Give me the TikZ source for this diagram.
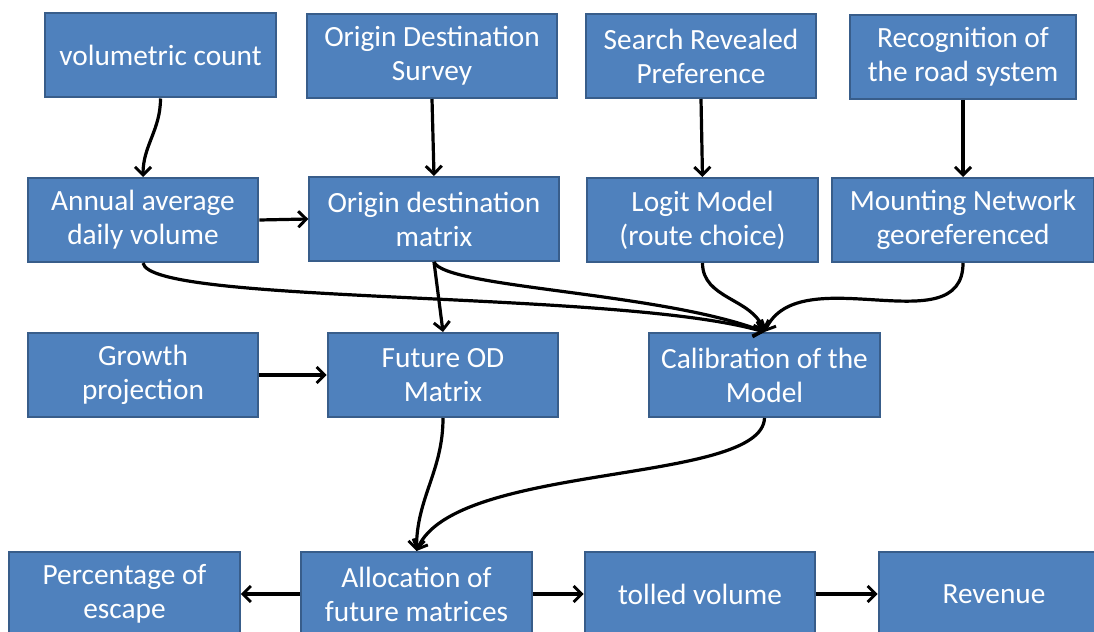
\documentclass[tikz,border=0pt]{standalone}
\usepackage{fontspec}
\setmainfont{Carlito}
\usetikzlibrary{arrows.meta}
\definecolor{boxfill}{HTML}{4F81BD}
\definecolor{boxline}{HTML}{385D8A}
\begin{document}
\begin{tikzpicture}[x=0.75pt,y=-0.75pt,
    block/.style={draw=boxline, fill=boxfill, line width=1.5pt, text=white,
      align=center, minimum width=173pt, minimum height=63pt, inner sep=2pt,
      font=\fontsize{22}{25.5}\selectfont},
    link/.style={-{Straight Barb[length=6pt,width=12pt,line width=2.2pt]}, line width=2.4pt}]
    \useasboundingbox (0,0) rectangle (1094,631);

    % First row
    \node[block] (count) at (160.5, 55.5) {volumetric count};
    \node[block, minimum width=187pt] (survey) at (432, 56) {Origin Destination\\Survey};
    \node[block] (search) at (701, 56) {Search Revealed\\Preference};
    \node[block, minimum width=170pt] (recog) at (963, 57) {Recognition of\\the road system};

    % Second row
    \node[block] (aadv) at (143, 220) {Annual average\\daily volume};
    \node[block, minimum width=187pt] (odmat) at (434, 219) {Origin destination\\matrix};
    \node[block] (logit) at (702.5, 220) {Logit Model\\(route choice)};
    \node[block, minimum width=196pt] (network) at (963, 220) {Mounting Network\\georeferenced};

    % Third row
    \node[block] (growth) at (143, 375) {Growth\\projection};
    \node[block] (future) at (443, 375) {Future OD\\Matrix};
    \node[block] (calib) at (764.5, 375) {Calibration of the\\Model};

    % Fourth row
    \node[block] (escape) at (124.5, 594) {Percentage of\\escape};
    \node[block] (alloc) at (416.5, 594) {Allocation of\\future matrices};
    \node[block] (tolled) at (700, 594) {tolled volume};
    \node[block] (revenue) at (994, 594) {Revenue};

    % Connectors
    \draw[link] (count.south) to[out=-90, in=90] (aadv.north);
    \draw[link] (survey.south) -- (odmat.north);
    \draw[link] (search.south) -- (logit.north);
    \draw[link] (recog.south) -- (network.north);
    \draw[link] (aadv.east) -- (odmat.west);
    \draw[link] (growth.east) -- (future.west);
    \draw[link] (odmat.south) -- (future.north);

    \draw[link] (aadv.south) .. controls (150,305) and (620,290) .. (calib.north);
    \draw[link] (odmat.south) .. controls (445,288) and (660,292) .. (calib.north);
    \draw[link] (logit.south) to[out=-90, in=110] (calib.north);
    \draw[link] (network.south) to[out=-90, in=65] (calib.north);

    \draw[link] (future.south) to[out=-90, in=90] (alloc.north);
    \draw[link] (calib.south) .. controls (762,485) and (455,462) .. (alloc.north);

    \draw[link] (alloc.west) -- (escape.east);
    \draw[link] (alloc.east) -- (tolled.west);
    \draw[link] (tolled.east) -- (revenue.west);
\end{tikzpicture}
\end{document}
